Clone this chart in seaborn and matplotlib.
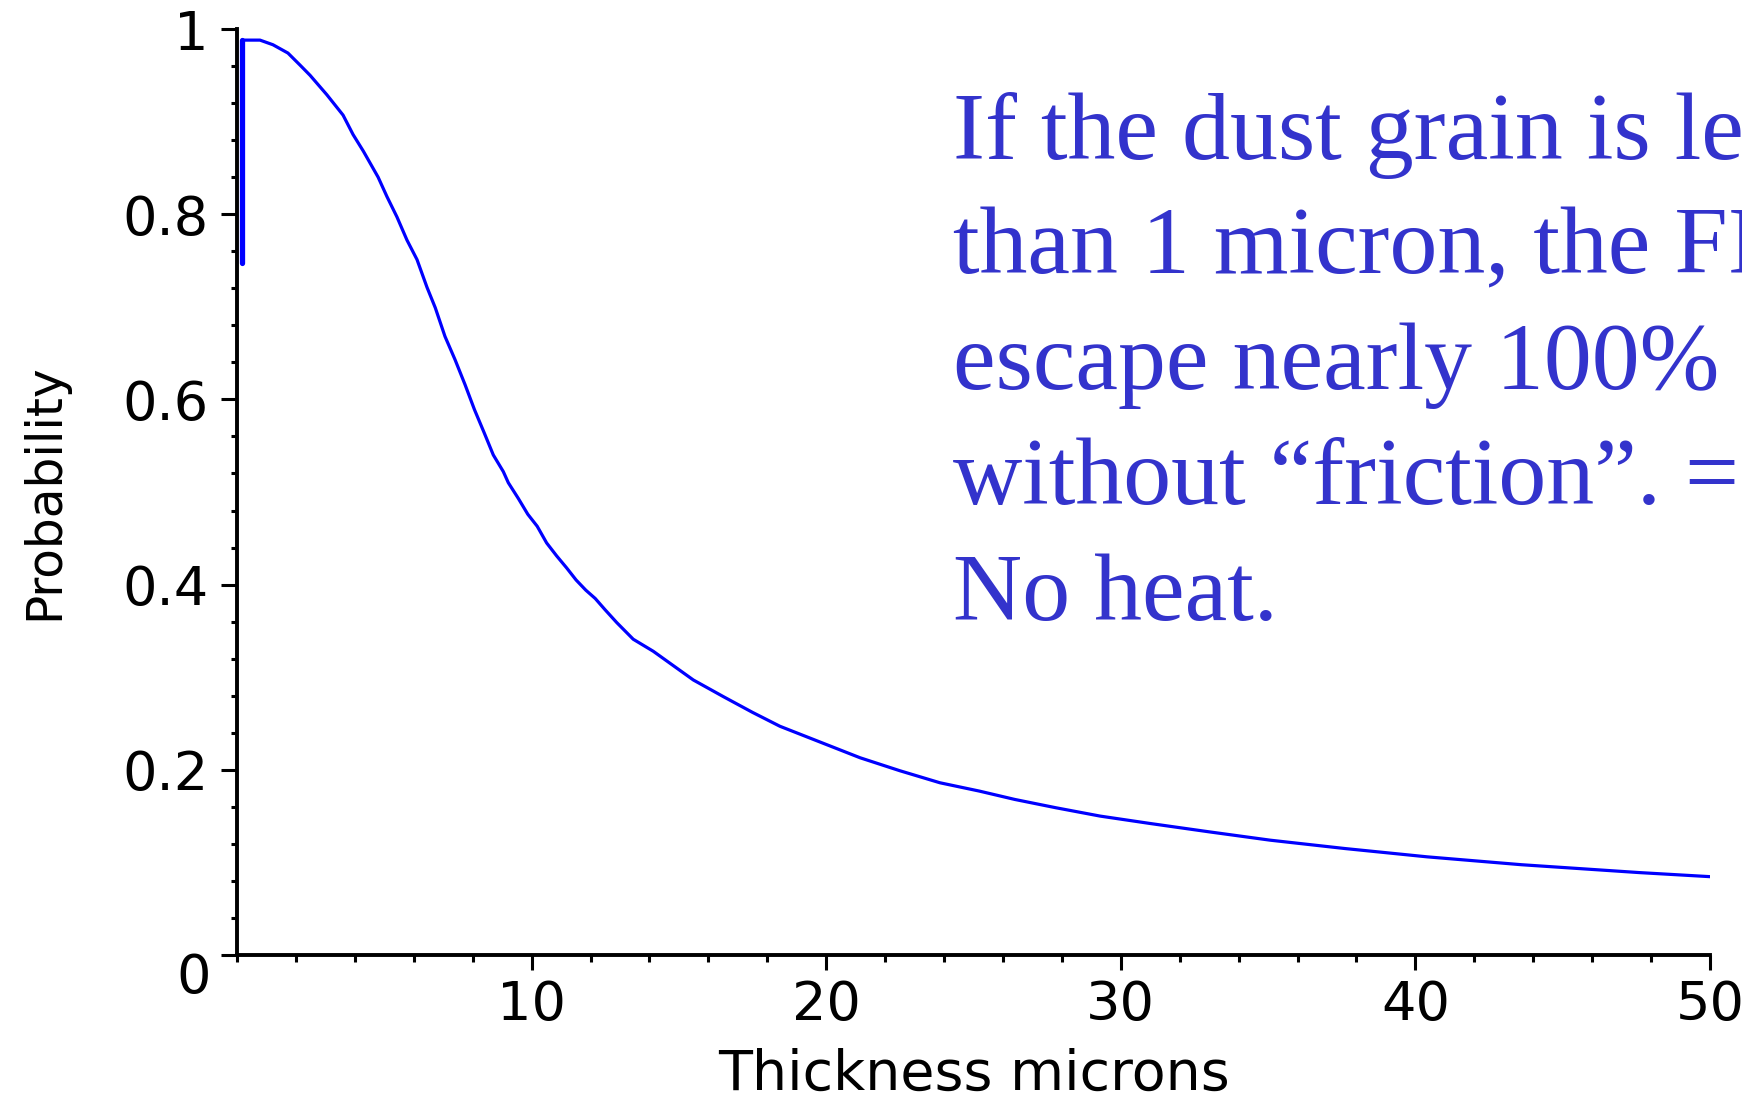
import matplotlib
matplotlib.use("Agg")
import matplotlib.pyplot as plt
from matplotlib.ticker import MultipleLocator, FixedLocator
import pandas as pd
import seaborn as sns

# escape probability vs grain thickness
thickness = [0.18, 0.18, 0.78, 1.22, 1.73, 2.14, 2.48, 3.05, 3.6, 3.94, 4.29,
             4.79, 5.09, 5.43, 5.77, 6.11, 6.45, 6.73, 7.06, 7.40, 7.74, 8.06,
             8.39, 8.70, 9.04, 9.21, 9.55, 9.87, 10.19, 10.51, 10.85, 11.19,
             11.51, 11.84, 12.16, 12.49, 12.89, 13.45, 14.13, 14.7, 15.49,
             16.51, 17.5, 18.43, 19.79, 21.15, 22.5, 23.86, 25.2, 26.4, 27.8,
             29.3, 31.0, 33.0, 35.07, 37.6, 40.4, 43.6, 47.6, 50.0]
probability = [0.747, 0.988, 0.988, 0.983, 0.974, 0.961, 0.950, 0.929, 0.907,
               0.886, 0.868, 0.840, 0.819, 0.797, 0.772, 0.751, 0.721, 0.699,
               0.668, 0.643, 0.616, 0.589, 0.564, 0.540, 0.522, 0.510, 0.493,
               0.476, 0.463, 0.445, 0.431, 0.418, 0.405, 0.394, 0.385, 0.373,
               0.359, 0.341, 0.328, 0.315, 0.297, 0.279, 0.262, 0.247, 0.230,
               0.213, 0.199, 0.186, 0.177, 0.168, 0.159, 0.150, 0.142, 0.133,
               0.124, 0.115, 0.106, 0.0975, 0.089, 0.0846]

x_ticks = [10, 20, 30, 40, 50]
y_ticks = [0, 0.2, 0.4, 0.6, 0.8, 1]
y_tick_labels = ['', '0.2', '0.4', '0.6', '0.8', '1']

note_lines = ['If the dust grain is less',
              'than 1 micron, the FIR',
              'escape nearly 100%',
              'without \u201cfriction\u201d. =>',
              'No heat.']

sns.set_style('white')
plt.rcParams['font.family'] = ['DejaVu Sans']

df = pd.DataFrame({'thickness': thickness, 'probability': probability})

W, H = 1742, 1098
fig = plt.figure(figsize=(W / 100, H / 100), dpi=100)
ax = fig.add_axes([237 / W, 1 - 955 / H, (1710 - 237) / W, (955 - 29) / H])

sns.lineplot(data=df, x='thickness', y='probability', sort=False,
             estimator=None, color='#0000ff', lw=2.3, ax=ax)
# the first (vertical) step is drawn heavier in the original
sns.lineplot(data=df.iloc[:2], x='thickness', y='probability', sort=False,
             estimator=None, color='#0000ff', lw=3.8, ax=ax)

ax.set_xlim(0, 50)
ax.set_ylim(0, 1)
ax.xaxis.set_major_locator(FixedLocator(x_ticks))
ax.xaxis.set_minor_locator(MultipleLocator(2))
ax.set_yticks(y_ticks, y_tick_labels)
ax.yaxis.set_minor_locator(MultipleLocator(0.04))

for side in ['top', 'right']:
    ax.spines[side].set_visible(False)
for side in ['left', 'bottom']:
    ax.spines[side].set_linewidth(2.8)
    ax.spines[side].set_color('black')

ax.tick_params(axis='both', which='both', direction='out', color='black',
               labelsize=39, labelcolor='black')
ax.tick_params(axis='x', which='major', length=11, width=2.2, pad=6,
               bottom=True)
ax.tick_params(axis='x', which='minor', length=5, width=2.2, bottom=True)
ax.tick_params(axis='y', which='major', length=11.5, width=2.2, pad=9,
               left=True)
ax.tick_params(axis='y', which='minor', length=4.5, width=2.2, left=True)

# origin label sits below-left of the corner
ax.text(-1.46, -0.025, '0', ha='center', va='center', fontsize=39,
        color='black', clip_on=False)

ax.set_xlabel('Thickness microns', fontsize=40, color='black')
ax.set_ylabel('Probability', fontsize=35, color='black')
ax.xaxis.set_label_coords(0.5, -0.100)
ax.yaxis.set_label_coords(-0.1145, 0.5)

baselines = [159, 273, 389, 504, 620]
for line, yb in zip(note_lines, baselines):
    fig.text(953 / W, 1 - yb / H, line, color='#3333cc', fontsize=69,
             family=['Liberation Serif'], va='baseline', ha='left')

fig.savefig('out.png', dpi=100)
